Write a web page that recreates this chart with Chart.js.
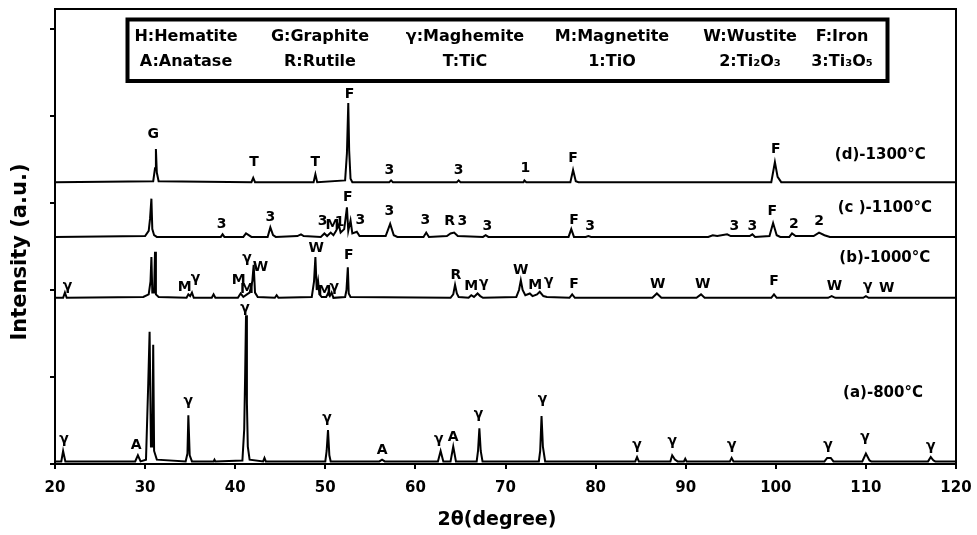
<!DOCTYPE html>
<html>
<head>
<meta charset="utf-8">
<title>XRD patterns</title>
<script src="https://cdn.jsdelivr.net/npm/chart.js@4.4.1/dist/chart.umd.min.js"></script>
<style>
    body { margin: 0; background: #fff; }
    #wrap { width: 977px; height: 535px; }
</style>
</head>
<body>
<div id="wrap"><canvas id="xrd" width="977" height="535"></canvas></div>
<script>
// ── Dados: [2θ, intensidade (u.a., deslocada)] ──
const pattA = [
    [20,0.03],[20.7,0.03],[20.9,0.15],[21.15,0.03],
    [28.9,0.03],[29.2,0.1],[29.5,0.03],
    [30.1,0.05],[30.35,0.93],[30.5,1.52],[30.65,0.2],[30.8,0.2],[30.9,1.37],[31.0,0.15],[31.3,0.05],
    [34.5,0.03],[34.7,0.12],[34.8,0.56],[34.95,0.1],[35.2,0.03],
    [37.6,0.03],[37.7,0.05],[37.8,0.03],
    [40.8,0.04],[41.0,0.4],[41.1,1.0],[41.2,1.71],[41.3,0.7],[41.4,0.2],[41.6,0.05],
    [43.1,0.03],[43.25,0.07],[43.4,0.03],
    [50.0,0.03],[50.15,0.15],[50.3,0.39],[50.45,0.1],[50.6,0.03],
    [56.0,0.03],[56.3,0.05],[56.6,0.03],
    [62.5,0.03],[62.8,0.15],[63.1,0.03],
    [63.9,0.03],[64.2,0.2],[64.5,0.03],
    [66.8,0.03],[66.95,0.15],[67.1,0.41],[67.25,0.15],[67.45,0.03],
    [73.7,0.03],[73.85,0.15],[74.0,0.55],[74.15,0.2],[74.4,0.03],
    [84.4,0.03],[84.6,0.08],[84.8,0.03],
    [88.3,0.03],[88.5,0.1],[88.8,0.05],[89.1,0.03],
    [89.8,0.03],[89.95,0.06],[90.1,0.03],
    [94.9,0.03],[95.1,0.07],[95.3,0.03],
    [105.4,0.03],[105.7,0.07],[106.1,0.07],[106.4,0.03],
    [109.6,0.03],[110.0,0.12],[110.4,0.04],[110.6,0.03],
    [116.9,0.03],[117.2,0.08],[117.5,0.04],[117.7,0.03],
    [120,0.03]
];

const pattB = [
    [20,1.91],[20.9,1.91],[21.1,1.97],[21.3,1.91],
    [29.8,1.92],[30.4,1.95],[30.6,2.1],[30.7,2.38],[30.8,1.97],[31.0,1.97],[31.1,2.44],[31.2,1.95],[31.5,1.92],
    [34.6,1.91],[34.8,1.95],[35.0,1.93],[35.2,1.97],[35.4,1.91],
    [37.4,1.91],[37.6,1.95],[37.8,1.91],
    [40.3,1.91],[40.6,1.96],[40.9,1.92],[41.3,1.95],[41.6,1.97],[41.9,2.1],[42.05,2.29],[42.2,1.97],[42.5,1.92],
    [44.4,1.91],[44.6,1.94],[44.8,1.91],
    [48.5,1.92],[48.75,2.1],[48.9,2.38],[49.05,2.0],[49.2,2.1],[49.35,1.95],[49.6,1.92],
    [50.1,1.92],[50.3,1.96],[50.5,1.93],[50.7,1.97],[50.9,1.91],
    [52.2,1.92],[52.35,2.0],[52.5,2.26],[52.6,1.96],[52.8,1.92],
    [63.9,1.91],[64.2,1.95],[64.4,2.06],[64.6,1.96],[64.8,1.92],
    [65.9,1.91],[66.2,1.94],[66.5,1.92],[66.9,1.96],[67.2,1.93],[67.5,1.91],
    [71.2,1.92],[71.5,2.0],[71.7,2.11],[71.9,2.0],[72.2,1.94],[72.7,1.96],[73.0,1.93],[73.5,1.95],[73.8,1.98],[74.2,1.93],[74.6,1.92],
    [77.1,1.91],[77.4,1.95],[77.7,1.91],
    [86.3,1.91],[86.8,1.96],[87.3,1.91],
    [91.2,1.91],[91.7,1.95],[92.1,1.91],
    [99.5,1.91],[99.8,1.95],[100.1,1.91],
    [105.8,1.91],[106.2,1.93],[106.6,1.91],
    [109.7,1.91],[110.0,1.93],[110.3,1.91],
    [120,1.91]
];

const pattC = [
    [20,2.61],[30.0,2.62],[30.4,2.68],[30.55,2.82],[30.7,3.05],[30.8,2.7],[31.0,2.63],[31.3,2.61],
    [38.4,2.61],[38.6,2.64],[38.8,2.61],
    [40.9,2.61],[41.2,2.65],[41.5,2.63],[41.8,2.61],
    [43.6,2.61],[43.9,2.72],[44.2,2.63],[44.5,2.61],
    [46.9,2.62],[47.3,2.64],[47.6,2.62],
    [49.5,2.61],[49.9,2.65],[50.2,2.62],[50.6,2.66],[50.9,2.63],[51.2,2.68],[51.5,2.75],[51.7,2.66],
    [52.1,2.7],[52.4,2.95],[52.55,2.68],[52.8,2.8],[53.0,2.65],[53.5,2.67],[53.8,2.62],
    [56.7,2.62],[57.2,2.76],[57.6,2.63],[58,2.61],
    [60.9,2.61],[61.2,2.66],[61.5,2.61],
    [63.5,2.62],[63.9,2.65],[64.3,2.66],[64.7,2.62],
    [67.5,2.61],[67.8,2.63],[68.1,2.61],
    [77.0,2.61],[77.3,2.70],[77.6,2.61],
    [78.9,2.61],[79.2,2.62],[79.5,2.61],
    [92.5,2.61],[93,2.63],[93.5,2.62],[94.6,2.64],[95,2.62],[97.1,2.62],[97.4,2.64],[97.7,2.61],
    [99.3,2.62],[99.7,2.77],[100.1,2.63],[100.5,2.61],
    [101.5,2.61],[101.8,2.65],[102.2,2.62],
    [104.2,2.62],[104.8,2.66],[105.4,2.63],[106,2.61],
    [120,2.61]
];

const pattD = [
    [20,3.24],[30.9,3.25],[31.1,3.4],[31.2,3.62],[31.3,3.35],[31.5,3.25],
    [41.8,3.24],[42.0,3.29],[42.2,3.24],
    [48.7,3.24],[48.9,3.33],[49.1,3.24],
    [52.2,3.26],[52.4,3.57],[52.55,4.15],[52.65,3.6],[52.8,3.28],[53.0,3.24],
    [57.1,3.24],[57.3,3.26],[57.5,3.24],
    [64.6,3.24],[64.8,3.26],[65.0,3.24],
    [72.0,3.24],[72.1,3.26],[72.3,3.24],
    [77.2,3.24],[77.5,3.38],[77.8,3.25],[78.1,3.24],
    [99.5,3.24],[99.9,3.47],[100.2,3.3],[100.6,3.24],
    [120,3.24]
];

const xTicks = [20, 30, 40, 50, 60, 70, 80, 90, 100, 110, 120];
const yTicks = [0, 1, 2, 3, 4, 5];

// rótulos das fases: [texto, 2θ, altura]
const labelsA = [
    ['γ',21.0,0.28],['A',29.0,0.22],['γ',34.8,0.72],['γ',41.1,1.79],['γ',50.2,0.52],
    ['A',56.3,0.16],['γ',62.6,0.28],['A',64.2,0.31],['γ',67.0,0.57],['γ',74.1,0.74],
    ['γ',84.6,0.22],['γ',88.5,0.26],['γ',95.1,0.22],['γ',105.8,0.22],['γ',109.9,0.31],['γ',117.2,0.2]
];
const labelsB = [
    ['γ',21.4,2.04],['M',34.4,2.03],['γ',35.6,2.13],['M',40.4,2.11],['M',41.3,2.01],
    ['γ',41.3,2.36],['W',42.8,2.26],['W',49.0,2.48],['M',49.9,1.98],['γ',51.0,2.03],
    ['F',52.6,2.4],['R',64.5,2.17],['M',66.2,2.04],['γ',67.6,2.08],['W',71.7,2.23],
    ['M',73.3,2.05],['γ',74.8,2.1],['F',77.6,2.07],['W',86.9,2.07],['W',91.9,2.07],
    ['F',99.8,2.1],['W',106.5,2.04],['γ',110.2,2.04],['W',112.3,2.02]
];
const labelsC = [
    ['3',38.5,2.75],['3',43.9,2.84],['3',49.7,2.79],['M',50.8,2.74],['1',51.6,2.78],
    ['F',52.5,3.06],['3',53.9,2.8],['3',57.1,2.9],['3',61.1,2.8],['R',63.8,2.79],
    ['3',65.2,2.79],['3',68.0,2.73],['F',77.6,2.8],['3',79.4,2.73],['3',95.4,2.73],
    ['3',97.4,2.73],['F',99.6,2.9],['2',102.0,2.75],['2',104.8,2.79]
];
const labelsD = [
    ['G',30.9,3.79],['T',42.1,3.47],['T',48.9,3.47],['F',52.7,4.25],['3',57.1,3.38],
    ['3',64.8,3.38],['1',72.2,3.40],['F',77.5,3.51],['F',100.0,3.62]
];
const tempLabels = [
    ['(d)-1300°C',111.6,3.55],['(c )-1100°C',112.1,2.94],
    ['(b)-1000°C',112.1,2.37],['(a)-800°C',111.9,0.82]
];

// legenda: linhas de códigos das fases
const legendTop = ['H:Hematite','G:Graphite','γ:Maghemite','M:Magnetite','W:Wustite','F:Iron'];
const legendBot = ['A:Anatase','R:Rutile','T:TiC','1:TiO','2:Ti₂O₃','3:Ti₃O₅'];

const FONT = 'DejaVu Sans';
Chart.defaults.font.family = FONT;
Chart.defaults.color = '#000';

const toXY = arr => arr.map(p => ({ x: p[0], y: p[1] }));
const serie = arr => ({
    data: toXY(arr),
    showLine: true,
    borderColor: '#000',
    borderWidth: 2,
    pointRadius: 0,
    tension: 0,
});

// ── Plugin: moldura, títulos dos eixos, rótulos dos picos e legenda ──
const extras = {
    id: 'extras',
    afterDatasetsDraw(chart) {
        const { ctx, chartArea: a, scales: { x, y } } = chart;
        ctx.save();
        ctx.strokeStyle = '#000';
        ctx.lineWidth = 2;
        ctx.beginPath();
        ctx.moveTo(a.left, a.top);
        ctx.lineTo(a.right, a.top);
        ctx.lineTo(a.right, a.bottom);
        ctx.stroke();

        ctx.fillStyle = '#000';
        ctx.textAlign = 'center';
        ctx.textBaseline = 'middle';
        ctx.font = `bold 14px "${FONT}"`;
        [labelsA, labelsB, labelsC, labelsD].forEach(list => {
            list.forEach(([t, px, py]) => {
                ctx.fillText(t, x.getPixelForValue(px), y.getPixelForValue(py));
            });
        });
        ctx.font = `bold 15px "${FONT}"`;
        tempLabels.forEach(([t, px, py]) => {
            ctx.fillText(t, x.getPixelForValue(px), y.getPixelForValue(py));
        });

        // títulos dos eixos
        ctx.font = `bold 19px "${FONT}"`;
        ctx.fillText('2θ(degree)', 497, 520);
        ctx.save();
        ctx.translate(21, 252);
        ctx.rotate(-Math.PI / 2);
        ctx.font = `bold 21px "${FONT}"`;
        ctx.fillText('Intensity (a.u.)', 0, 0);
        ctx.restore();

        // caixa da legenda
        ctx.lineWidth = 4;
        ctx.fillStyle = '#fff';
        ctx.fillRect(127.5, 19.5, 760, 61.5);
        ctx.strokeRect(127.5, 19.5, 760, 61.5);
        ctx.fillStyle = '#000';
        ctx.font = `bold 16px "${FONT}"`;
        const cols = [186, 320, 465, 612, 750, 842];
        legendTop.forEach((t, i) => ctx.fillText(t, cols[i], 37));
        legendBot.forEach((t, i) => ctx.fillText(t, cols[i], 62));
        ctx.restore();
    }
};

new Chart(document.getElementById('xrd'), {
    type: 'scatter',
    data: {
        datasets: [serie(pattA), serie(pattB), serie(pattC), serie(pattD)]
    },
    options: {
        responsive: false,
        devicePixelRatio: 1,
        animation: false,
        layout: { padding: { top: 9, right: 21, left: 0, bottom: 0 } },
        plugins: {
            legend: { display: false },
            tooltip: { enabled: false }
        },
        scales: {
            x: {
                type: 'linear',
                min: 20,
                max: 120,
                afterBuildTicks: s => { s.ticks = xTicks.map(v => ({ value: v })); },
                afterFit: s => { s.height = 71; },
                ticks: { font: { size: 15, weight: 'bold', lineHeight: 2 }, padding: 4, maxRotation: 0 },
                grid: { drawOnChartArea: false, tickLength: 5, color: '#000', lineWidth: 2 },
                border: { color: '#000', width: 2 }
            },
            y: {
                min: 0,
                max: 5.23,
                afterBuildTicks: s => { s.ticks = yTicks.map(v => ({ value: v })); },
                afterFit: s => { s.width = 55; },
                ticks: { display: false },
                grid: { drawOnChartArea: false, tickLength: 5, color: '#000', lineWidth: 2 },
                border: { color: '#000', width: 2 }
            }
        }
    },
    plugins: [extras]
});
</script>
</body>
</html>
